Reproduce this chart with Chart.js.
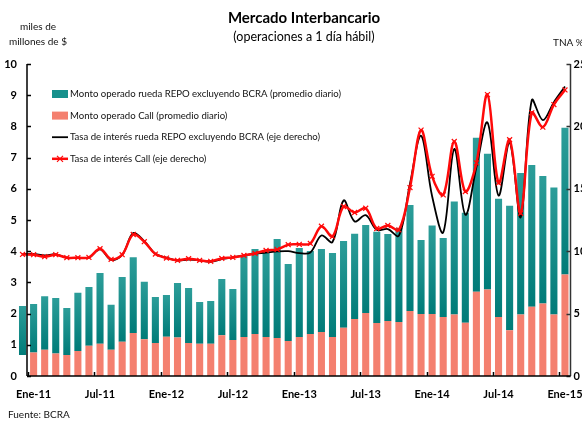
<!DOCTYPE html>
<html lang="es">
<head>
<meta charset="UTF-8">
<title>Mercado Interbancario</title>
<style>
    html, body { margin: 0; padding: 0; background: #fff; }
    .chart-container { position: relative; width: 582px; height: 421px; }
</style>
</head>
<body>
<div class="chart-container">
    <canvas id="mercadoChart"></canvas>
</div>

<script src="https://cdn.jsdelivr.net/npm/chart.js@4/dist/chart.umd.min.js"></script>
<script>
    // Meses: Dic-10 a Ene-15
    const meses = [
        'Dic-10',
        'Ene-11', 'Feb-11', 'Mar-11', 'Abr-11', 'May-11', 'Jun-11', 'Jul-11', 'Ago-11', 'Sep-11', 'Oct-11', 'Nov-11', 'Dic-11',
        'Ene-12', 'Feb-12', 'Mar-12', 'Abr-12', 'May-12', 'Jun-12', 'Jul-12', 'Ago-12', 'Sep-12', 'Oct-12', 'Nov-12', 'Dic-12',
        'Ene-13', 'Feb-13', 'Mar-13', 'Abr-13', 'May-13', 'Jun-13', 'Jul-13', 'Ago-13', 'Sep-13', 'Oct-13', 'Nov-13', 'Dic-13',
        'Ene-14', 'Feb-14', 'Mar-14', 'Abr-14', 'May-14', 'Jun-14', 'Jul-14', 'Ago-14', 'Sep-14', 'Oct-14', 'Nov-14', 'Dic-14',
        'Ene-15'
    ];

    // Etiquetas visibles del eje x
    const etiquetasX = ['Ene-11', 'Jul-11', 'Ene-12', 'Jul-12', 'Ene-13', 'Jul-13', 'Ene-14', 'Jul-14', 'Ene-15'];

    // Monto operado Call (miles de millones de $, promedio diario)
    const montoCall = [
        0.67,
        0.75, 0.84, 0.72, 0.67, 0.80, 0.97, 1.03, 0.84, 1.10, 1.38, 1.18, 1.06,
        1.26, 1.23, 1.06, 1.03, 1.03, 1.31, 1.15, 1.25, 1.35, 1.25, 1.22, 1.12,
        1.25, 1.35, 1.41, 1.25, 1.55, 1.83, 2.02, 1.70, 1.76, 1.73, 2.08, 1.99,
        1.99, 1.89, 1.97, 1.71, 2.70, 2.77, 1.89, 1.47, 1.97, 2.22, 2.32, 1.97,
        3.25
    ];

    // Monto operado rueda REPO excluyendo BCRA (miles de millones de $)
    const montoRepo = [
        1.57,
        1.56, 1.72, 1.78, 1.51, 1.87, 1.88, 2.27, 1.44, 2.07, 2.43, 1.84, 1.47,
        1.34, 1.75, 1.76, 1.34, 1.37, 1.80, 1.64, 2.63, 2.72, 2.73, 3.17, 2.47,
        2.85, 2.66, 2.66, 2.69, 2.78, 2.73, 2.82, 2.92, 2.79, 3.01, 3.40, 2.37,
        2.83, 2.53, 3.62, 3.52, 4.94, 4.35, 3.79, 3.99, 4.54, 4.54, 4.09, 4.07,
        4.71
    ];

    // Tasa de interés rueda REPO excluyendo BCRA (TNA %)
    const tasaRepo = [
        9.78,
        9.78, 9.66, 9.75, 9.48, 9.48, 9.48, 10.15, 9.30, 9.70, 11.45, 10.80, 9.80,
        9.48, 9.25, 9.32, 9.27, 9.15, 9.36, 9.50, 9.66, 9.80, 9.88, 9.98, 10.00,
        9.85, 9.90, 11.26, 10.73, 14.06, 12.38, 12.89, 11.71, 11.77, 11.24, 15.40, 19.25,
        14.40, 11.50, 18.19, 12.92, 16.72, 20.31, 14.46, 18.72, 12.72, 22.10, 20.50, 21.94,
        23.19
    ];

    // Tasa de interés Call (TNA %)
    const tasaCall = [
        9.74,
        9.72, 9.56, 9.72, 9.48, 9.48, 9.50, 10.20, 9.35, 9.72, 11.34, 10.76, 9.77,
        9.45, 9.27, 9.40, 9.27, 9.19, 9.42, 9.50, 9.66, 9.82, 10.06, 10.14, 10.52,
        10.55, 10.62, 12.00, 11.18, 13.58, 13.10, 13.44, 11.82, 12.06, 11.71, 15.10, 19.70,
        16.00, 14.51, 18.79, 14.78, 17.07, 22.55, 15.47, 18.93, 13.04, 21.09, 19.94, 21.75,
        22.92
    ];

    const fuente = 'Lato, "Open Sans", sans-serif';
    const colorCall = '#f4806f';
    const colorRepo = '#17908c';
    const rojo = '#ff0a0a';

    // Degradado vertical de cada barra REPO
    function degradadoRepo(c) {
        const ch = c.chart;
        if (!ch.chartArea || !ch.scales.y) return colorRepo;
        const i = c.dataIndex;
        const yTop = ch.scales.y.getPixelForValue(montoCall[i] + montoRepo[i]);
        const yBot = ch.scales.y.getPixelForValue(montoCall[i]);
        const g = ch.ctx.createLinearGradient(0, yTop, 0, yBot);
        g.addColorStop(0, '#2c9d99');
        g.addColorStop(1, '#007b78');
        return g;
    }

    // Ejes, leyenda y textos dibujados a mano
    const decoracion = {
        id: 'decoracion',
        afterDraw(chart) {
            const { ctx, chartArea: a, scales: { x, y, y1 } } = chart;
            const xEje = 27;
            ctx.save();

            // eje izquierdo
            ctx.strokeStyle = '#000';
            ctx.lineWidth = 1.5;
            ctx.beginPath();
            ctx.moveTo(xEje, y.getPixelForValue(10));
            ctx.lineTo(xEje, a.bottom);
            y.ticks.forEach(t => {
                const py = Math.round(y.getPixelForValue(t.value)) + 0.5;
                ctx.moveTo(xEje, py);
                ctx.lineTo(xEje + 4, py);
            });
            ctx.stroke();

            // eje derecho
            ctx.strokeStyle = '#333';
            ctx.beginPath();
            ctx.moveTo(a.right, y1.getPixelForValue(25));
            ctx.lineTo(a.right, a.bottom);
            y1.ticks.forEach(t => {
                const py = Math.round(y1.getPixelForValue(t.value)) + 0.5;
                ctx.moveTo(a.right, py);
                ctx.lineTo(a.right - 4, py);
            });
            ctx.stroke();

            // eje x
            ctx.strokeStyle = '#000';
            ctx.beginPath();
            ctx.moveTo(xEje, a.bottom);
            ctx.lineTo(a.right, a.bottom);
            meses.forEach((m, i) => {
                if (i > 0 && etiquetasX.includes(m)) {
                    const px = Math.round((x.getPixelForValue(i) + x.getPixelForValue(i - 1)) / 2) + 0.5;
                    ctx.moveTo(px, a.bottom);
                    ctx.lineTo(px, a.bottom - 4);
                }
            });
            ctx.stroke();

            // leyenda
            const items = [
                { texto: chart.data.datasets[1].label, tipo: 'caja', color: colorRepo },
                { texto: chart.data.datasets[0].label, tipo: 'caja', color: colorCall },
                { texto: chart.data.datasets[2].label, tipo: 'linea', color: '#000' },
                { texto: chart.data.datasets[3].label, tipo: 'marca', color: rojo }
            ];
            ctx.font = '9.6px ' + fuente;
            ctx.textBaseline = 'middle';
            ctx.textAlign = 'left';
            items.forEach((it, k) => {
                const yc = 94 + k * 21.6;
                if (it.tipo === 'caja') {
                    ctx.fillStyle = it.color;
                    ctx.fillRect(52, yc - 4, 16, 8);
                } else {
                    ctx.strokeStyle = it.color;
                    ctx.lineWidth = it.tipo === 'marca' ? 2.5 : 1.8;
                    ctx.beginPath();
                    ctx.moveTo(52, yc);
                    ctx.lineTo(68, yc);
                    ctx.stroke();
                    if (it.tipo === 'marca') {
                        ctx.lineWidth = 1.2;
                        ctx.beginPath();
                        ctx.moveTo(57, yc - 3); ctx.lineTo(63, yc + 3);
                        ctx.moveTo(57, yc + 3); ctx.lineTo(63, yc - 3);
                        ctx.stroke();
                    }
                }
                ctx.fillStyle = '#111';
                ctx.fillText(it.texto, 70, yc);
            });

            // titulos
            ctx.fillStyle = '#000';
            ctx.textAlign = 'center';
            ctx.font = 'bold 15px ' + fuente;
            ctx.fillText('Mercado Interbancario', 304, 18);
            ctx.font = '12.5px ' + fuente;
            ctx.fillText('(operaciones a 1 día hábil)', 304, 37);

            ctx.font = '10px ' + fuente;
            ctx.fillStyle = '#111';
            ctx.fillText('miles de', 38, 27);
            ctx.fillText('millones de $', 38, 42);
            ctx.textAlign = 'left';
            ctx.fillText('TNA %', 553, 43);
            ctx.fillText('Fuente: BCRA', 8, 415);
            ctx.restore();
        }
    };

    new Chart(document.getElementById('mercadoChart'), {
        data: {
            labels: meses,
            datasets: [
                {
                    type: 'bar',
                    label: 'Monto operado Call (promedio diario)',
                    data: montoCall,
                    // la primera barra Call no aparece en el original
                    backgroundColor: c => c.dataIndex === 0 ? 'rgba(0,0,0,0)' : colorCall,
                    yAxisID: 'y',
                    order: 2,
                    categoryPercentage: 1,
                    barPercentage: 0.64
                },
                {
                    type: 'bar',
                    label: 'Monto operado rueda REPO excluyendo BCRA (promedio diario)',
                    data: montoRepo,
                    backgroundColor: degradadoRepo,
                    yAxisID: 'y',
                    order: 2,
                    categoryPercentage: 1,
                    barPercentage: 0.64
                },
                {
                    type: 'line',
                    label: 'Tasa de interés rueda REPO excluyendo BCRA (eje derecho)',
                    data: tasaRepo,
                    borderColor: '#000',
                    borderWidth: 1.8,
                    pointRadius: 0,
                    tension: 0.35,
                    yAxisID: 'y1',
                    order: 1
                },
                {
                    type: 'line',
                    label: 'Tasa de interés Call (eje derecho)',
                    data: tasaCall,
                    borderColor: rojo,
                    borderWidth: 2.5,
                    pointStyle: 'crossRot',
                    pointRadius: 3.5,
                    pointBorderWidth: 1.2,
                    pointBorderColor: rojo,
                    pointBackgroundColor: rojo,
                    tension: 0.35,
                    yAxisID: 'y1',
                    order: 0
                }
            ]
        },
        options: {
            responsive: true,
            maintainAspectRatio: false,
            animation: false,
            layout: { autoPadding: false, padding: { top: 64, bottom: 15, left: 0, right: 0 } },
            plugins: {
                legend: { display: false },
                tooltip: { enabled: false }
            },
            scales: {
                x: {
                    stacked: true,
                    grid: { display: false, drawTicks: false },
                    border: { display: false },
                    afterFit: s => {
                        s.height = 30;
                        // la etiqueta Ene-15 puede salirse del lienzo, como en el original
                        s.paddingLeft = 0;
                        s.paddingRight = 0;
                    },
                    ticks: {
                        autoSkip: false,
                        maxRotation: 0,
                        padding: 12,
                        color: '#000',
                        font: { family: fuente, size: 11, weight: 'bold' },
                        callback: (v, i) => etiquetasX.includes(meses[i]) ? meses[i] : ''
                    }
                },
                y: {
                    stacked: true,
                    position: 'left',
                    min: 0,
                    max: 10,
                    grid: { display: false, drawTicks: false },
                    border: { display: false },
                    afterFit: s => { s.width = 17; },
                    ticks: {
                        stepSize: 1,
                        padding: 0,
                        color: '#000',
                        font: { family: fuente, size: 11, weight: 'bold' }
                    }
                },
                y1: {
                    position: 'right',
                    min: 0,
                    max: 25,
                    grid: { display: false, drawTicks: false },
                    border: { display: false },
                    afterFit: s => { s.width = 11.5; },
                    ticks: {
                        stepSize: 5,
                        padding: 3,
                        color: '#000',
                        font: { family: fuente, size: 11, weight: 'bold' }
                    }
                }
            }
        },
        plugins: [decoracion]
    });
</script>
</body>
</html>
